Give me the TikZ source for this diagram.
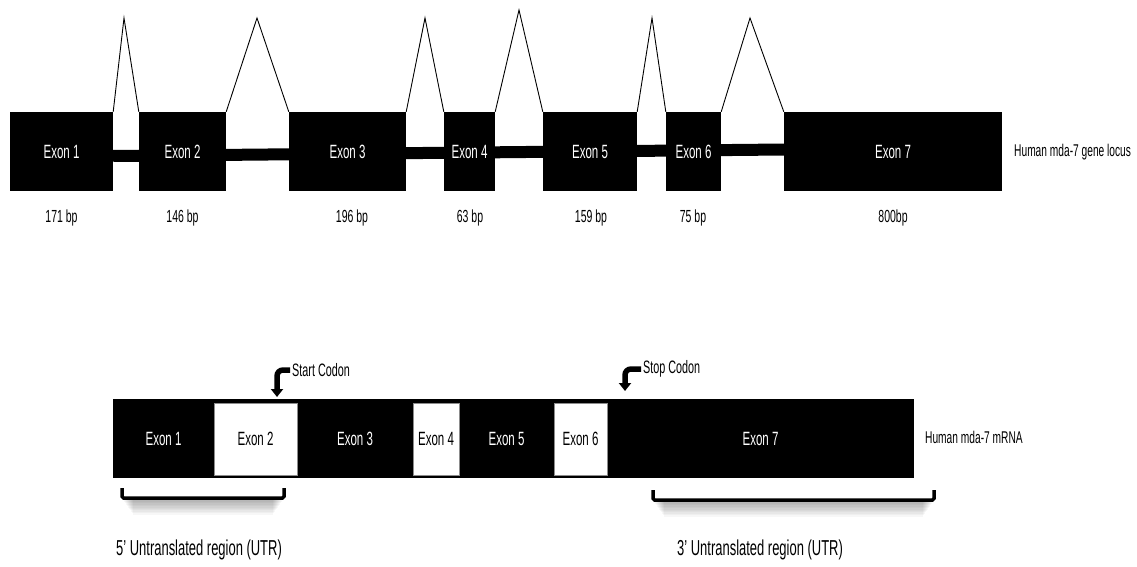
\documentclass[tikz,border=0pt]{standalone}
\usepackage{fontspec}
\setmainfont{Liberation Sans}
\newfontfamily\narrowsf[FakeStretch=0.6]{Liberation Sans}
\usetikzlibrary{arrows.meta,calc}
\pgfdeclarelayer{background}
\pgfsetlayers{background,main}
\newcommand{\fsz}[1]{\narrowsf\fontsize{#1}{#1}\selectfont}
\begin{document}
\begin{tikzpicture}[x=1pt,y=-1pt,
  exonbox/.style={fill=black, text=white, inner sep=0pt, minimum height=79, font=\fsz{19.2}},
  splice/.style={draw=black, line width=0.9},
  intron/.style={line width=12},
  bplabel/.style={font=\fsz{17.5}, inner sep=0pt},
  tracklabel/.style={font=\fsz{17}, inner sep=0pt, anchor=west},
  mexon/.style={text=white, inner sep=0pt, font=\fsz{19.2}},
  wexon/.style={fill=white, draw=black!45, line width=0.6, text=black, inner sep=0pt, minimum height=72, font=\fsz{19.2}},
  codonlbl/.style={font=\fsz{18}, inner sep=0pt, anchor=west},
  codon/.style={line width=5.5, rounded corners=6, -{Triangle[width=12,length=8]}},
  bracket/.style={line width=3.5, rounded corners=1.5},
  utrlabel/.style={font=\fsz{21.6}, inner sep=0pt, anchor=west}]
\begin{pgfonlayer}{background}
\fill[white] (0,0) rectangle (1137,567);
\end{pgfonlayer}
\useasboundingbox (0,0) rectangle (1137,567);

% ---- gene locus: exons ----
\node[exonbox, minimum width=103] (e1) at (61.5,151.5) {Exon 1};
\node[exonbox, minimum width=87]  (e2) at (182.5,151.5) {Exon 2};
\node[exonbox, minimum width=117] (e3) at (347.5,151.5) {Exon 3};
\node[exonbox, minimum width=51]  (e4) at (469.5,151.5) {Exon 4};
\node[exonbox, minimum width=94]  (e5) at (590,151.5) {Exon 5};
\node[exonbox, minimum width=55]  (e6) at (693.5,151.5) {Exon 6};
\node[exonbox, minimum width=218] (e7) at (893,151.5) {Exon 7};

% introns as a thick backbone behind the exons
\begin{pgfonlayer}{background}
\draw[intron] ($(e1.east)+(0,4.5)$) -- ($(e7.west)+(0,-2)$);
\end{pgfonlayer}

% splicing peaks
\coordinate (a1) at (124,18);
\coordinate (a2) at (257,18);
\coordinate (a3) at (425,18);
\coordinate (a4) at (519,10);
\coordinate (a5) at (652,18);
\coordinate (a6) at (750,18);
\draw[splice] (e1.north east) -- (a1) -- (e2.north west);
\draw[splice] (e2.north east) -- (a2) -- (e3.north west);
\draw[splice] (e3.north east) -- (a3) -- (e4.north west);
\draw[splice] (e4.north east) -- (a4) -- (e5.north west);
\draw[splice] (e5.north east) -- (a5) -- (e6.north west);
\draw[splice] (e6.north east) -- (a6) -- (e7.north west);

% exon sizes
\node[bplabel] (b1) at (61.5,218) {171 bp};
\node[bplabel] (b2) at (182.5,218) {146 bp};
\node[bplabel] (b3) at (352,218) {196 bp};
\node[bplabel] (b4) at (470,218) {63 bp};
\node[bplabel] (b5) at (591,218) {159 bp};
\node[bplabel] (b6) at (693,218) {75 bp};
\node[bplabel] (b7) at (893,218) {800bp};

\node[tracklabel] (locus) at (1014,152) {Human mda-7 gene locus};

% ---- mRNA ----
\node[fill=black, minimum width=801, minimum height=79, inner sep=0pt] (bar) at (513.5,438.5) {};
\node[mexon] (m1) at (163.5,438.5) {Exon 1};
\node[wexon, minimum width=83] (m2) at (255.5,439) {Exon 2};
\node[mexon] (m3) at (355,438.5) {Exon 3};
\node[wexon, minimum width=46] (m4) at (436,439) {Exon 4};
\node[mexon] (m5) at (506.5,438.5) {Exon 5};
\node[wexon, minimum width=53] (m6) at (580.5,439) {Exon 6};
\node[mexon] (m7) at (760.5,438.5) {Exon 7};

\node[tracklabel] (mrna) at (925,437) {Human mda-7 mRNA};

% start / stop codon markers
\coordinate (starttip) at (277,397);
\node[codonlbl] (startlbl) at (292,370) {Start Codon};
\draw[codon] ([xshift=-2]startlbl.west) -| (starttip);

\coordinate (stoptip) at (625,391);
\node[codonlbl] (stoplbl) at (643,369) {Stop Codon};
\draw[codon] ([xshift=-2]stoplbl.west) -| (stoptip);

% untranslated regions
\foreach \k in {0,...,9}
  \fill[black, opacity=0.03] (124+\k,499) rectangle (282-\k,502+1.4*\k);
\foreach \k in {0,...,9}
  \fill[black, opacity=0.03] (655+\k,501) rectangle (932-\k,504+1.4*\k);

\coordinate (u5a) at (122,488);
\coordinate (u5b) at (284,488);
\draw[bracket] (u5a) -- ++(0,10) -| (u5b);
\coordinate (u3a) at (653,490);
\coordinate (u3b) at (934,490);
\draw[bracket] (u3a) -- ++(0,10) -| (u3b);

\node[utrlabel] (utr5) at (116,550) {5’ Untranslated region (UTR)};
\node[utrlabel] (utr3) at (677,550) {3’ Untranslated region (UTR)};
\end{tikzpicture}
\end{document}
